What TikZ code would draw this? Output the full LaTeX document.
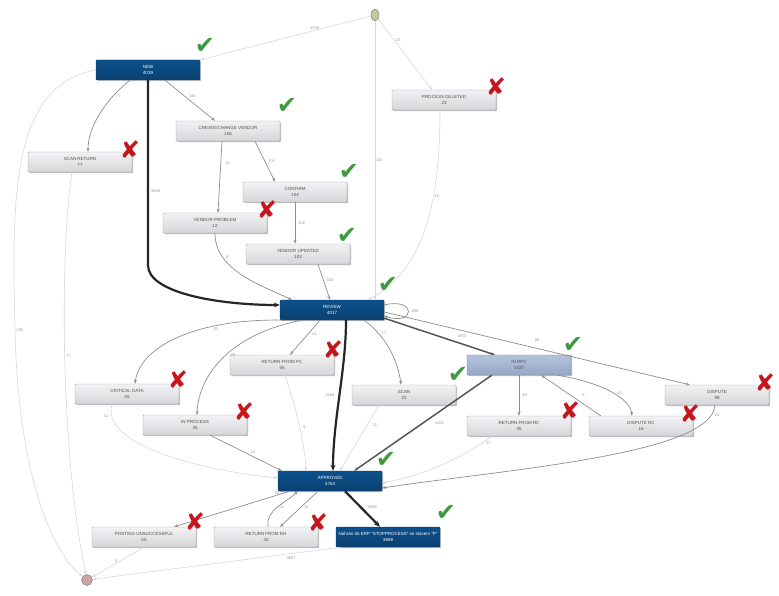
\documentclass[tikz,border=0pt]{standalone}
\usepackage{fontspec}
\setmainfont{Liberation Sans}
\newfontfamily\symfont{DejaVu Sans}
\usetikzlibrary{arrows.meta,shapes.geometric,calc,shadows}
\definecolor{dblue}{HTML}{0D508C}
\definecolor{dbluebot}{HTML}{094070}
\definecolor{boxtop}{HTML}{F2F2F4}
\definecolor{boxbot}{HTML}{D6D6DA}
\definecolor{boxline}{HTML}{A8A8AC}
\definecolor{boxtext}{HTML}{505050}
\definecolor{rpctop}{HTML}{B4C2DC}
\definecolor{rpcbot}{HTML}{95A7C8}
\definecolor{lightline}{HTML}{D8D8D8}
\definecolor{medline}{HTML}{8E8E8E}
\definecolor{darkline}{HTML}{555555}
\definecolor{labcol}{HTML}{9A9A9A}
\definecolor{okgreen}{HTML}{3E9A3E}
\definecolor{badred}{HTML}{C4161C}
\definecolor{startfill}{HTML}{C2C79E}
\definecolor{endfill}{HTML}{C9A3A6}
\begin{document}
\begin{tikzpicture}[x=1pt,y=-1pt,
  box/.style={draw=boxline, top color=boxtop, bottom color=boxbot, rounded corners=1pt,
    minimum width=104pt, minimum height=20pt, inner sep=0pt, align=center,
    font=\fontsize{4.5}{6}\selectfont, text=boxtext,
    drop shadow={shadow xshift=1.2pt, shadow yshift=-1.2pt, opacity=0.25, fill=black}},
  dbox/.style={box, top color=dblue, bottom color=dbluebot, draw=dbluebot, text=white},
  rbox/.style={box, top color=rpctop, bottom color=rpcbot, draw=rpcbot!80!black},
  startn/.style={draw=startfill!60!black, fill=startfill, ellipse, minimum width=8pt, minimum height=12pt, inner sep=0pt},
  endn/.style={draw=endfill!70!black, fill=endfill, circle, minimum size=11pt, inner sep=0pt},
  lab/.style={font=\fontsize{4}{5}\selectfont, text=labcol, inner sep=1pt},
  tip/.style={-{Stealth[length=4pt,width=3pt]}},
  light/.style={tip, draw=lightline, line width=0.6pt},
  med/.style={tip, draw=medline, line width=0.7pt},
  dark/.style={tip, draw=darkline, line width=1.5pt},
  heavy/.style={-{Stealth[length=6pt,width=5pt]}, draw=black!85, line width=2.2pt},
  ok/.style={text=okgreen, font=\symfont\fontsize{24}{24}\selectfont, inner sep=0pt},
  bad/.style={text=badred, font=\symfont\fontsize{24}{24}\selectfont, inner sep=0pt}
]
\useasboundingbox[fill=white] (0,0) rectangle (779,596);

% nodes
\node[startn] (S) at (375,15) {};
\node[endn] (E) at (87,580) {};
\node[dbox] (NEW) at (148,70) {NEW\\4039};
\node[box] (SCR) at (80,162) {SCAN RETURN\\77};
\node[box] (CCV) at (228,131) {CREATE/CHANGE VENDOR\\106};
\node[box] (PDEL) at (444,100) {PROCESS DELETED\\23};
\node[box] (CONF) at (295,192) {CONFIRM\\104};
\node[box] (VPROB) at (215,223) {VENDOR PROBLEM\\12};
\node[box] (VUPD) at (298,254) {VENDOR UPDATED\\102};
\node[dbox] (REV) at (332,310) {REVIEW\\4017};
\node[box] (CRIT) at (127,394) {CRITICAL DATA\\46};
\node[box] (RFPC) at (282,365) {RETURN FROM PC\\55};
\node[box] (INP) at (195,425) {IN PROCESS\\35};
\node[box] (SCAN) at (404,395) {SCAN\\22};
\node[rbox] (IRPC) at (519,365) {IN RPC\\1437};
\node[box] (RFRC) at (519,426) {RETURN FROM RC\\45};
\node[box] (DISP) at (717,395) {DISPUTE\\98};
\node[box] (DRC) at (641,426) {DISPUTE RC\\16};
\node[dbox] (APPR) at (330,481) {APPROVED\\3764};
\node[box] (PU) at (144,537) {POSTING UNSUCCESSFUL\\50};
\node[box] (RFRH) at (266,537) {RETURN FROM RH\\43};
\node[dbox] (FIN) at (388,537) {Nahrán do ERP "STOPPROCESS" se stavem "P"\\3698};

% connectors
\draw[light] (S) -- (NEW.north east) node[lab,pos=0.33,above]{4039};
\draw[light] (S) -- ($(PDEL.north)+(-12,0)$) node[lab,pos=0.3,right]{23};
\draw[light] (S) -- ($(REV.north)+(43,0)$) node[lab,pos=0.5,right]{115};
\draw[light] ($(PDEL.south)+(-4,0)$) .. controls (440,200) and (425,270) .. ($(REV.north)+(36,0)$) node[lab,pos=0.35,right]{18};
\draw[light] (NEW.west) .. controls (10,85) and (12,200) .. (15,330) node[lab,right]{136} .. controls (18,470) and (50,550) .. (E);
\draw[light] ($(SCR.south)+(-8,0)$) .. controls (60,250) and (60,450) .. (E) node[lab,pos=0.5,right]{77};

\draw[med] ($(NEW.south)+(-18,0)$) .. controls +(-25,20) and +(0,-25) .. ($(SCR.north)+(8,0)$) node[lab,pos=0.25,right=2pt]{77};
\draw[med] ($(NEW.south)+(17,0)$) -- ($(CCV.north)+(-13,0)$) node[lab,pos=0.45,above right]{106};
\draw[heavy] (NEW.south) -- ++(0,185) node[lab,pos=0.6,right=1pt]{3856} .. controls +(0,28) and +(-60,0) .. ($(REV.west)+(0,-5)$);
\draw[med] ($(CCV.south)+(27,0)$) -- ($(CONF.north)+(-20,0)$) node[lab,pos=0.5,right=2pt]{104};
\draw[med] ($(CCV.south)+(-6,0)$) -- ($(VPROB.north)+(3,0)$) node[lab,pos=0.3,right=3pt]{12};
\draw[med] (CONF.south) -- ($(VUPD.north)+(-3,0)$) node[lab,pos=0.5,right=2pt]{102};
\draw[med] (VPROB.south) .. controls (215,270) and (260,285) .. ($(REV.north)+(-40,0)$) node[lab,pos=0.25,right=2pt]{9};
\draw[med] ($(VUPD.south)+(20,0)$) -- ($(REV.north)+(-2,0)$) node[lab,pos=0.45,right=2pt]{102};
\draw[med] ($(REV.east)+(0,-5)$) .. controls +(32,-8) and +(32,10) .. ($(REV.east)+(0,6)$) node[lab,pos=0.5,right=2pt]{209};

\draw[med] ($(REV.south west)+(5,0)$) .. controls (200,318) and (140,345) .. ($(CRIT.north)+(8,0)$) node[lab,pos=0.3,below=1pt]{82};
\draw[med] ($(REV.south)+(-30,0)$) .. controls (225,335) and (198,380) .. ($(INP.north)+(2,0)$) node[lab,pos=0.45,right=3pt]{38};
\draw[med] ($(REV.south)+(-12,0)$) -- ($(RFPC.north)+(8,0)$) node[lab,pos=0.4,right=3pt]{41};
\draw[heavy] ($(REV.south)+(14,0)$) .. controls (346,370) and (333,420) .. ($(APPR.north)+(3,0)$) node[lab,pos=0.5,left=3pt]{2264};
\draw[med] ($(REV.south)+(32,0)$) .. controls (385,335) and (398,360) .. ($(SCAN.north)+(-3,0)$) node[lab,pos=0.25,right=2pt]{17};
\draw[dark] ($(REV.south east)+(0,-2)$) -- ($(IRPC.north west)+(28,0)$) node[lab,pos=0.7,above=5pt]{1403};
\draw[med] ($(REV.east)+(0,2)$) -- ($(DISP.north west)+(25,0)$) node[lab,pos=0.5,above=6pt]{98};

\draw[light] ($(CRIT.south)+(-15,0)$) .. controls (100,445) and (200,470) .. ($(APPR.west)+(0,-3)$) node[lab,pos=0.1,left=2pt]{31};
\draw[med] ($(INP.south)+(15,0)$) -- ($(APPR.north west)+(4,0)$) node[lab,pos=0.55,above right]{24};
\draw[light] ($(RFPC.south)+(3,0)$) .. controls (300,420) and (305,450) .. ($(APPR.north)+(-24,0)$) node[lab,pos=0.45,right=2pt]{5};
\draw[light] ($(SCAN.south)+(-25,0)$) -- ($(APPR.north)+(10,0)$) node[lab,pos=0.3,right=4pt]{21};
\draw[dark] ($(IRPC.south west)+(25,0)$) -- ($(APPR.north east)+(-28,0)$) node[lab,pos=0.5,right=10pt]{1403};
\draw[med] (IRPC.south) -- (RFRC.north) node[lab,pos=0.5,right=2pt]{45};
\draw[light] ($(RFRC.south west)+(25,0)$) .. controls (460,460) and (420,476) .. ($(APPR.east)+(0,2)$) node[lab,pos=0.1,right=3pt]{37};
\draw[med] ($(IRPC.south east)+(-14,0)$) .. controls (600,382) and (630,398) .. ($(DRC.north)+(-9,0)$) node[lab,pos=0.55,right=2pt]{10};
\draw[med] ($(DRC.north west)+(12,0)$) -- ($(IRPC.south east)+(-30,0)$) node[lab,pos=0.5,right=10pt]{8};
\draw[med] ($(DISP.south)+(-2,0)$) .. controls (712,455) and (500,470) .. ($(APPR.east)+(0,7)$) node[lab,pos=0.07,right=2pt]{24};

\draw[med] ($(APPR.south west)+(12,0)$) -- ($(PU.north east)+(-22,0)$) node[lab,pos=0.15,above right=1pt]{26};
\draw[med] ($(RFRH.north)+(2,0)$) .. controls +(-2,-18) and +(-12,12) .. ($(APPR.south west)+(20,0)$) node[lab,pos=0.5,right=1pt]{21};
\draw[med] ($(APPR.south)+(-12,0)$) -- ($(RFRH.north)+(14,0)$) node[lab,pos=0.45,right=2pt]{13};
\draw[heavy] ($(APPR.south)+(15,0)$) -- ($(FIN.north)+(-8,0)$) node[lab,pos=0.45,right=5pt]{3698};
\draw[light] (PU.south) -- (E) node[lab,pos=0.45,left=2pt]{5};
\draw[light] ($(FIN.south west)+(5,0)$) -- (E) node[lab,pos=0.2,below=2pt]{3697};

% marks
\node[ok] (m1) at (205,46) {✔};
\node[ok] (m2) at (287,106) {✔};
\node[bad] (m3) at (130,150) {✘};
\node[bad] (m4) at (496,87) {✘};
\node[ok] (m5) at (349,172) {✔};
\node[bad] (m6) at (267,210) {✘};
\node[ok] (m7) at (347,236) {✔};
\node[ok] (m8) at (388,285) {✔};
\node[bad] (m9) at (333,350) {✘};
\node[bad] (m10) at (178,380) {✘};
\node[bad] (m11) at (244,412) {✘};
\node[ok] (m12) at (458,375) {✔};
\node[ok] (m13) at (573,345) {✔};
\node[bad] (m14) at (570,411) {✘};
\node[bad] (m15) at (690,414) {✘};
\node[bad] (m16) at (765,383) {✘};
\node[ok] (m17) at (386,460) {✔};
\node[bad] (m18) at (195,522) {✘};
\node[bad] (m19) at (318,523) {✘};
\node[ok] (m20) at (446,513) {✔};
\end{tikzpicture}
\end{document}
